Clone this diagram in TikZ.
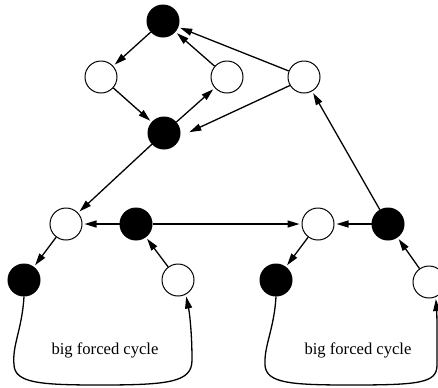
\documentclass[tikz,border=0pt]{standalone}
\usepackage{fontspec}
\setmainfont{Liberation Serif}
\usepackage{tikz}
\usetikzlibrary{arrows.meta}
\tikzset{
  wnode/.style={circle,draw,line width=0.5pt,fill=white,minimum size=16pt,inner sep=0pt},
  bnode/.style={wnode,fill=black},
  arr/.style={->,shorten >=1pt},
  cyclab/.style={font=\fontsize{8.3}{10}\selectfont}
}
\begin{document}
\begin{tikzpicture}[x=0.5pt,y=-0.5pt,line width=0.65pt,>={Triangle[length=6pt,width=3.5pt]}]
    \clip (0,0) rectangle (438,387);
    % upper part
    \node[bnode] (t) at (163,21) {};
    \node[wnode] (a) at (101,77) {};
    \node[wnode] (b) at (227,77) {};
    \node[wnode] (c) at (304,77) {};
    \node[bnode] (m) at (164,133) {};
    % middle row
    \node[wnode] (w1) at (66,224) {};
    \node[bnode] (k1) at (136,224) {};
    \node[wnode] (w2) at (318,224) {};
    \node[bnode] (k2) at (388,224) {};
    % lower row
    \node[bnode] (k3) at (24,280) {};
    \node[wnode] (w3) at (178,280) {};
    \node[bnode] (k4) at (276,280) {};
    \node[wnode] (w4) at (429,282) {};
    \node[cyclab] (lbl1) at (105,350) {big forced cycle};
    \node[cyclab] (lbl2) at (358,350) {big forced cycle};
    % edges
    \draw[arr] (t) -- (a);
    \draw[arr] (b) -- (t);
    \draw[arr] (c) -- (t);
    \draw[arr] (a) -- (m);
    \draw[arr] (m) -- (b);
    \draw[arr] (c.211) -- ([xshift=3.5pt]m.east);
    \draw[arr] (m) -- (w1);
    \draw[arr] (k2) -- (c);
    \draw[arr] (k1) -- (w1);
    \draw[arr] (k1) -- (w2);
    \draw[arr] (k2) -- (w2);
    \draw[arr] (w1) -- (k3);
    \draw[arr] (w3) -- (k1);
    \draw[arr] (w2) -- (k4);
    \draw[arr] (w4) -- (k2);
    % the two big cycles
    \draw[arr] (k3.south) .. controls (22,330) and (12,345) .. (14,365)
        .. controls (15,383) and (40,385) .. (100,385)
        .. controls (170,385) and (192,382) .. (192,360)
        .. controls (192,330) and (189,310) .. (w3.-62);
    \draw[arr] (k4.south) .. controls (274,330) and (264,345) .. (265,365)
        .. controls (266,383) and (290,385) .. (350,385)
        .. controls (420,385) and (437,383) .. (437,365)
        .. controls (437,335) and (437,315) .. (w4.-66);
\end{tikzpicture}
\end{document}
